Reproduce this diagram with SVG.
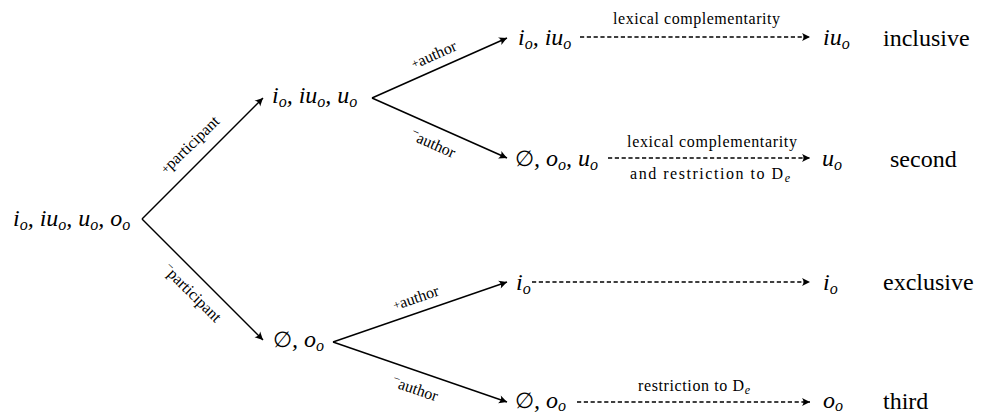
<svg xmlns="http://www.w3.org/2000/svg" width="982" height="415" viewBox="0 0 982 415">
<style>
.m{font-family:'Liberation Serif',serif;font-size:24px;font-style:italic}
.c{font-family:'Liberation Serif',serif;font-size:24px}
.l{font-family:'Liberation Serif',serif;font-size:16px}
.e{font-family:'Liberation Serif',serif;font-size:16px;text-anchor:middle}
.s{font-size:16px}
.sg{font-size:12px}
.edge{stroke:#000;stroke-width:1.4;fill:none;marker-end:url(#ah)}
.dash{stroke-dasharray:4.2 2.6}
.es{font-style:normal;font-size:22px}
</style>
<defs>
<marker id="ah" viewBox="-9 -5 10 10" refX="0" refY="0" markerWidth="10" markerHeight="10" markerUnits="userSpaceOnUse" orient="auto">
<path d="M0,0 L-8,-4 Q-5,0 -8,4 Z" fill="#000"/>
</marker>
</defs>
<g id="connectors">
<line class="edge" x1="142" y1="219" x2="263" y2="98"/>
<line class="edge" x1="142" y1="219" x2="263" y2="340"/>
<line class="edge" x1="372" y1="98" x2="507" y2="38"/>
<line class="edge" x1="372" y1="98" x2="507" y2="158"/>
<line class="edge" x1="333" y1="342" x2="507" y2="282"/>
<line class="edge" x1="333" y1="342" x2="507" y2="402"/>
<line class="edge dash" x1="580" y1="37" x2="810" y2="37"/>
<line class="edge dash" x1="608" y1="158" x2="810" y2="158"/>
<line class="edge dash" x1="532" y1="282" x2="810" y2="282"/>
<line class="edge dash" x1="577" y1="402" x2="810" y2="402"/>
<g id="edge-labels">
<text class="e" font-family="Liberation Serif" transform="translate(190,145) rotate(-44)" y="5"><tspan class="sg" dy="-1">+</tspan><tspan dy="1">participant</tspan></text>
<text class="e" font-family="Liberation Serif" transform="translate(192,293) rotate(45)" y="5"><tspan class="sg" dy="-5">−</tspan><tspan dy="5">participant</tspan></text>
<text class="e" font-family="Liberation Serif" transform="translate(434,55) rotate(-24)" y="5"><tspan class="sg" dy="-1">+</tspan><tspan dy="1">author</tspan></text>
<text class="e" font-family="Liberation Serif" transform="translate(433,144) rotate(24)" y="5"><tspan class="sg" dy="-5">−</tspan><tspan dy="5">author</tspan></text>
<text class="e" font-family="Liberation Serif" transform="translate(416,298) rotate(-19)" y="5"><tspan class="sg" dy="-1">+</tspan><tspan dy="1">author</tspan></text>
<text class="e" font-family="Liberation Serif" transform="translate(415,389) rotate(19)" y="5"><tspan class="sg" dy="-5">−</tspan><tspan dy="5">author</tspan></text>
<text class="l" font-family="Liberation Serif" x="613" y="24" textLength="167">lexical complementarity</text>
<text class="l" font-family="Liberation Serif" x="627" y="147" textLength="170">lexical complementarity</text>
<text class="l" font-family="Liberation Serif" x="630" y="179" textLength="160">and restriction to D<tspan class="sg" font-style="italic" dy="3">e</tspan></text>
<text class="l" font-family="Liberation Serif" x="638" y="391" textLength="112">restriction to D<tspan class="sg" font-style="italic" dy="3">e</tspan></text>
</g>
</g>
<g id="root"><text class="m" font-family="Liberation Serif" x="13" y="226">i<tspan class="s" dy="4">o</tspan><tspan dy="-4">, iu</tspan><tspan class="s" dy="4">o</tspan><tspan dy="-4">, u</tspan><tspan class="s" dy="4">o</tspan><tspan dy="-4">, o</tspan><tspan class="s" dy="4">o</tspan></text></g>
<g id="n-participant"><text class="m" font-family="Liberation Serif" x="272" y="103">i<tspan class="s" dy="4">o</tspan><tspan dy="-4">, iu</tspan><tspan class="s" dy="4">o</tspan><tspan dy="-4">, u</tspan><tspan class="s" dy="4">o</tspan></text></g>
<g id="n-nonparticipant"><text class="m" font-family="Liberation Serif" x="273" y="347"><tspan class="es">∅</tspan>, o<tspan class="s" dy="4">o</tspan></text></g>
<g id="n-incl"><text class="m" font-family="Liberation Serif" x="518" y="45">i<tspan class="s" dy="4">o</tspan><tspan dy="-4">, iu</tspan><tspan class="s" dy="4">o</tspan></text></g>
<g id="n-second"><text class="m" font-family="Liberation Serif" x="515" y="166"><tspan class="es">∅</tspan>, o<tspan class="s" dy="4">o</tspan><tspan dy="-4">, u</tspan><tspan class="s" dy="4">o</tspan></text></g>
<g id="n-excl"><text class="m" font-family="Liberation Serif" x="516" y="290">i<tspan class="s" dy="4">o</tspan></text></g>
<g id="n-third"><text class="m" font-family="Liberation Serif" x="515" y="408"><tspan class="es">∅</tspan>, o<tspan class="s" dy="3">o</tspan></text></g>
<g id="r-incl"><text class="m" font-family="Liberation Serif" x="823" y="45">iu<tspan class="s" dy="4">o</tspan></text><text class="c" font-family="Liberation Serif" x="883" y="46">inclusive</text></g>
<g id="r-second"><text class="m" font-family="Liberation Serif" x="822" y="166">u<tspan class="s" dy="4">o</tspan></text><text class="c" font-family="Liberation Serif" x="890" y="167">second</text></g>
<g id="r-excl"><text class="m" font-family="Liberation Serif" x="823" y="290">i<tspan class="s" dy="4">o</tspan></text><text class="c" font-family="Liberation Serif" x="883" y="290">exclusive</text></g>
<g id="r-third"><text class="m" font-family="Liberation Serif" x="823" y="408">o<tspan class="s" dy="3">o</tspan></text><text class="c" font-family="Liberation Serif" x="883" y="409">third</text></g>
</svg>
